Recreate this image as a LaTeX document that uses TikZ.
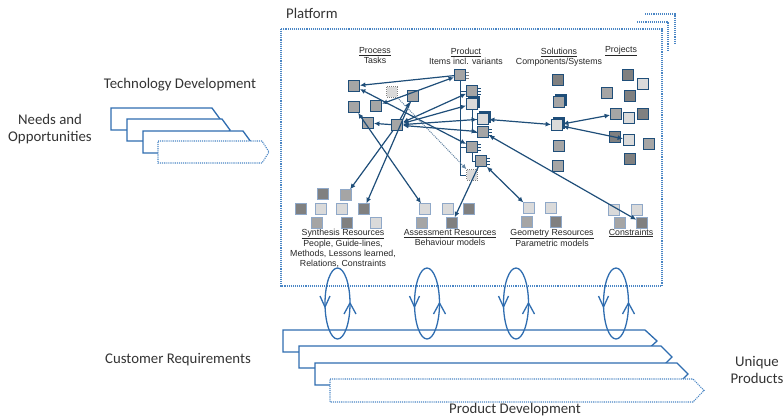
\documentclass[tikz,border=0pt]{standalone}
\usepackage{fontspec}
\setmainfont{Carlito}
\newfontfamily\arialf{Liberation Sans}
\usetikzlibrary{arrows.meta,shadows}
\definecolor{navy}{HTML}{1F4E79}
\definecolor{pblue}{HTML}{2F6DB0}
\definecolor{dotblue}{HTML}{4A86C5}
\definecolor{dg}{HTML}{808080}
\definecolor{mg}{HTML}{A5A5A5}
\definecolor{lg}{HTML}{DADADA}
\definecolor{rsb}{HTML}{8FA8C8}
\tikzset{
  big/.style={font=\fontsize{14.8}{17}\selectfont, text=black!80, inner sep=0pt, align=center},
  lbl/.style={font=\arialf\fontsize{8.8}{10}\selectfont, text=black!85, inner sep=0pt, align=center},
  sq/.style={draw=navy, line width=1.3pt, minimum size=10.5pt, inner sep=0pt},
  dsq/.style={draw=gray, densely dotted, line width=1pt, minimum size=10.5pt, inner sep=0pt, fill=lg},
  threed/.style={copy shadow={shadow xshift=2pt, shadow yshift=2pt, fill=navy, draw=navy}},
  rs/.style={draw=rsb, line width=0.8pt, minimum size=10.5pt, inner sep=0pt},
  arr/.style={navy, line width=1.2pt, -{Latex[length=5.5pt,width=5pt]}},
  darr/.style={navy, line width=1.2pt, {Latex[length=5.5pt,width=5pt]}-{Latex[length=5.5pt,width=5pt]}},
  tree/.style={navy, line width=1pt},
  pline/.style={pblue, line width=1.3pt, line join=miter},
  dline/.style={dotblue, densely dotted, line width=1.1pt},
}
\begin{document}
\begin{tikzpicture}[x=1pt, y=-1pt]
\useasboundingbox (0,0) rectangle (784,420);

% ---------- platform box ----------
\draw[dline] (645,14) -- (675,14) -- (675,43);
\draw[dline] (637,22) -- (668,22) -- (668,50);
\draw[dline] (281,29) rectangle (662,286);
\node[big, anchor=west] (plat) at (286,13) {Platform};

% ---------- technology development ----------
\node[big] (techl) at (180,85) {Technology Development};
\node[big] (needs) at (50,129) {Needs and\\Opportunities};
\draw[pline, fill=white] (111,108) -- (212,108) -- (220,119) -- (212,130) -- (111,130) -- cycle;
\draw[pline, fill=white] (127,119) -- (222,119) -- (230,130) -- (222,141) -- (127,141) -- cycle;
\draw[pline, fill=white] (143,131) -- (243,131) -- (251,142) -- (243,153) -- (143,153) -- cycle;
\draw[dline, fill=white] (158,141) -- (262,141) -- (269,152) -- (262,163) -- (158,163) -- cycle;

% ---------- product development ----------
\draw[pline, fill=white] (283,330) -- (645,330) -- (657,341) -- (645,352) -- (283,352) -- cycle;
\draw[pline, fill=white] (299,346) -- (661,346) -- (672,357) -- (661,368) -- (299,368) -- cycle;
\draw[pline, fill=white] (315,363) -- (677,363) -- (688,374) -- (677,385) -- (315,385) -- cycle;
\draw[dline, fill=white] (330,379) -- (693,379) -- (704,390.5) -- (693,402) -- (330,402) -- cycle;
\node[big] (cust) at (178,360) {Customer Requirements};
\node[big] (pdev) at (515,410) {Product Development};
\node[big] (uniq) at (757,370) {Unique\\Products};

% ---------- loops ----------
\foreach \cx in {337.5,427,516,616} {
  \draw[pline] (\cx,303.5) ellipse [x radius=12.5pt, y radius=35.5pt];
  \draw[pline, line join=round] (\cx-17.5,296) -- (\cx-12.5,307) -- (\cx-7.5,296);
  \draw[pline, line join=round] (\cx+6.5,314) -- (\cx+12.5,303) -- (\cx+18.5,314);
}

% ---------- labels ----------
\node[lbl] (lproc) at (375,55.5) {\underline{Process}\\Tasks};
\node[lbl] (lprod) at (466,56.5) {\underline{Product}\\Items incl. variants};
\node[lbl] (lsol) at (559,57) {\underline{Solutions}\\Components/Systems};
\node[lbl] (lproj) at (621,51) {\underline{Projects}};
\node[lbl] (lsyn) at (343,248) {\underline{Synthesis Resources}\\People, Guide-lines,\\Methods, Lessons learned,\\Relations, Constraints};
\node[lbl] (lass) at (450,238) {\underline{Assessment Resources}\\Behaviour models};
\node[lbl] (lgeo) at (552,238) {\underline{Geometry Resources}\\Parametric models};
\node[lbl] (lcon) at (631,233) {\underline{Constraints}};

% ---------- process squares ----------
\node[sq, fill=mg] (P1) at (354,86) {};
\node[sq, fill=mg] (P2) at (354,107) {};
\node[sq, fill=mg] (P3) at (368,123) {};
\node[sq, fill=mg] (P4) at (376,106) {};
\node[dsq] (P5) at (392,92) {};
\node[sq, fill=mg] (P6) at (413,96) {};
\node[sq, fill=mg] (P7) at (397,125) {};

% ---------- product items ----------
\node[sq, fill=mg] (I1) at (460,75) {};
\node[sq, fill=mg] (I2) at (472,91) {};
\node[sq, fill=lg, threed] (I3) at (472,104) {};
\node[sq, fill=lg, threed] (I4) at (483,119) {};
\node[sq, fill=mg] (I5) at (483,132) {};
\node[sq, fill=mg] (I6) at (472,147) {};
\node[sq, fill=mg] (I7) at (481,161) {};
\node[dsq] (I8) at (472,175) {};
\draw[tree] (I1.south) -- (I1.south |- I8) -- (I8.west);
\draw[tree] (I1.south |- I2) -- (I2.west);
\draw[tree] (I1.south |- I6) -- (I6.west);
\draw[tree] (I3.south) -- (I3.south |- I5) -- (I5.west);
\draw[tree] (I3.south |- I4) -- (I4.west);
\draw[tree] (I6.south) -- (I6.south |- I7) -- (I7.west);
\foreach \n in {I2,I5,I6,I7} {
  \foreach \d in {-3,0,3} \draw[navy, line width=0.6pt] ([yshift=\d pt]\n.east) -- ++(3,0);
}
\foreach \d in {-3,0,3} \draw[gray, line width=0.6pt] ([yshift=\d pt]I1.east) -- ++(3,0);

% ---------- solutions ----------
\node[sq, fill=dg] (S1) at (558,80) {};
\node[sq, fill=mg, threed] (S2) at (559,102) {};
\node[sq, fill=lg, threed] (S3) at (557,125) {};
\node[sq, fill=mg] (S4) at (559,146) {};
\node[sq, fill=mg] (S5) at (558,166) {};

% ---------- projects ----------
\node[sq, fill=dg] (J1) at (628,75) {};
\node[sq, fill=lg] (J2) at (643,84) {};
\node[sq, fill=mg] (J3) at (607,93) {};
\node[sq, fill=dg] (J4) at (630,96) {};
\node[sq, fill=mg] (J5) at (616,114) {};
\node[sq, fill=lg] (J6) at (629,118) {};
\node[sq, fill=dg] (J7) at (643,114) {};
\node[sq, fill=dg] (J8) at (615,137) {};
\node[sq, fill=lg] (J9) at (629,140) {};
\node[sq, fill=mg] (J10) at (649,144) {};
\node[sq, fill=dg] (J11) at (630,159) {};

% ---------- resources ----------
\node[rs, fill=dg] (R1) at (323,194) {};
\node[rs, fill=mg] (R2) at (346,195) {};
\node[rs, fill=dg] (R3) at (301,209) {};
\node[rs, fill=lg] (R4) at (321,209) {};
\node[rs, fill=lg] (R5) at (342,209) {};
\node[rs, fill=dg] (R6) at (364,209) {};
\node[rs, fill=mg] (R7) at (317,223) {};
\node[rs, fill=dg] (R8) at (347,223) {};
\node[rs, fill=lg] (R9) at (376,223) {};
\node[rs, fill=lg] (A1) at (425,209) {};
\node[rs, fill=lg] (A2) at (448,209) {};
\node[rs, fill=dg] (A3) at (469,209) {};
\node[rs, fill=mg] (A4) at (422,223) {};
\node[rs, fill=dg] (A5) at (452,223) {};
\node[rs, fill=lg] (G1) at (529,208) {};
\node[rs, fill=lg] (G2) at (551,208) {};
\node[rs, fill=mg] (G3) at (527,222) {};
\node[rs, fill=dg] (G4) at (556,222) {};
\node[rs, fill=lg] (C1) at (614,210) {};
\node[rs, fill=lg] (C2) at (637,210) {};
\node[rs, fill=mg] (C3) at (620,223) {};
\node[rs, fill=dg] (C4) at (642,223) {};

% ---------- connectors ----------
\draw[arr] (I1) -- (P1);
\draw[darr] (P4) -- (I1);
\draw[darr] (P1) -- (I6);
\draw[arr] (P7) -- (P3);
\draw[arr] (P7) -- (P6);
\draw[darr] (P7) -- (I2);
\draw[darr] (P7) -- (I3);
\draw[darr] (P7) -- (I4);
\draw[darr] (P7) -- (I5);
\draw[arr] (P7) -- (R2);
\draw[arr] (P6) -- (R6);
\draw[darr] (P2) -- (A1);
\draw[arr] (I7) -- (A5);
\draw[darr] (I7) -- (G1);
\draw[darr] (I5) -- (C4);
\draw[darr] (I4) -- (S3);
\draw[darr] (S3) -- (J5);
\draw[darr] (S3) -- (J9);
\draw[navy!70, densely dotted, line width=1pt, -{Latex[length=5pt,width=4.5pt]}] (P5) -- (I8);
\end{tikzpicture}
\end{document}
